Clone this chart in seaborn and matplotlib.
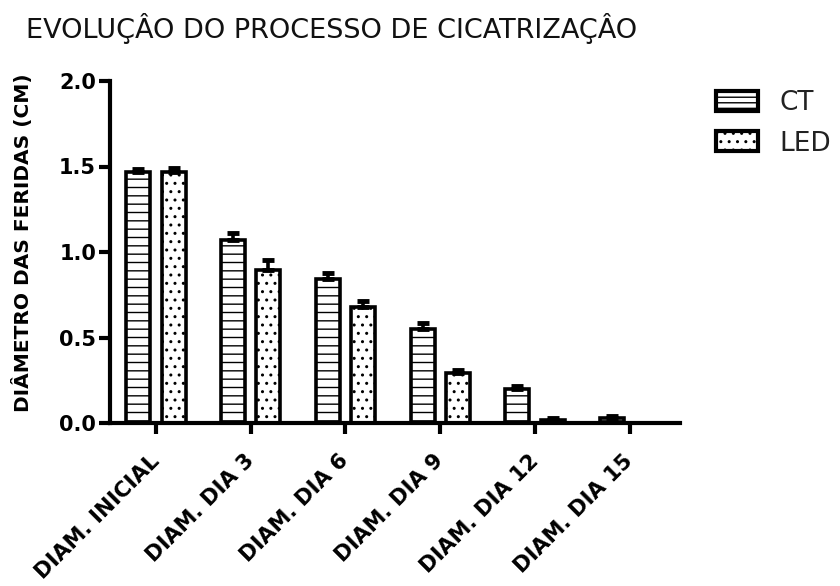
import matplotlib
matplotlib.use("Agg")
import matplotlib.pyplot as plt
import matplotlib.transforms as mtransforms
import seaborn as sns
import pandas as pd
import numpy as np
from matplotlib.patches import Patch

# ---- data ----
categories = ["DIAM. INICIAL", "DIAM. DIA 3", "DIAM. DIA 6", "DIAM. DIA 9", "DIAM. DIA 12", "DIAM. DIA 15"]
groups = ["CT", "LED"]
ct_mean = [1.47, 1.07, 0.84, 0.55, 0.20, 0.03]
ct_err = [0.015, 0.04, 0.035, 0.035, 0.015, 0.01]
led_mean = [1.47, 0.895, 0.68, 0.29, 0.02, 0.0]
led_err = [0.02, 0.06, 0.035, 0.02, 0.01, 0.0]
y_ticks = [0.0, 0.5, 1.0, 1.5, 2.0]
title = "EVOLUÇÂO DO PROCESSO DE CICATRIZAÇÂO"
y_label = "DIÂMETRO DAS FERIDAS (CM)"

df = pd.DataFrame({
    "dia": categories * 2,
    "grupo": [groups[0]] * len(categories) + [groups[1]] * len(categories),
    "diam": ct_mean + led_mean,
})
errs = {groups[0]: ct_err, groups[1]: led_err}

sns.set_theme(style="white")
plt.rcParams["font.family"] = ["DejaVu Sans"]
plt.rcParams["hatch.color"] = "black"
plt.rcParams["hatch.linewidth"] = 1.0

W, H = 840, 586
fig = plt.figure(figsize=(W / 100, H / 100), dpi=100)
fig.patch.set_facecolor("white")
ax = fig.add_axes([110 / W, 1 - 423 / H, (680 - 110) / W, (423 - 81) / H])

sns.barplot(data=df, x="dia", y="diam", hue="grupo", order=categories, hue_order=groups,
            palette=["white", "white"], edgecolor="black", linewidth=2.6,
            width=0.745, gap=0.32, errorbar=None, legend=False, ax=ax)

hatches = {groups[0]: "--", groups[1]: ".."}
for cont, g in zip(ax.containers, groups):
    xs, hs = [], []
    for bar in cont:
        bar.set_hatch(hatches[g])
        xs.append(bar.get_x() + bar.get_width() / 2)
        hs.append(bar.get_height())
    e = np.array(errs[g])
    mask = np.array(hs) > 0
    ax.errorbar(np.array(xs)[mask], np.array(hs)[mask],
                yerr=[np.zeros(mask.sum()), e[mask]], fmt="none",
                ecolor="black", elinewidth=2.6, capsize=4.5, capthick=3.5, zorder=1)

ax.set_ylim(0, 2.0)
ax.set_xlim(-0.485, 5.53)
ax.set_yticks(y_ticks)
ax.set_yticklabels([f"{v:.1f}" for v in y_ticks], fontsize=15, fontweight="bold")
ax.set_xticks(range(len(categories)))
ax.set_xticklabels(categories, rotation=45, ha="right", rotation_mode="anchor",
                   fontsize=15.3, fontweight="bold")
ax.tick_params(axis="both", which="both", direction="out", length=8, width=3,
               color="black", labelcolor="black", left=True, bottom=True)
ax.tick_params(axis="y", pad=2)
ax.tick_params(axis="x", pad=12)
shift = mtransforms.ScaledTranslation(-7 / 100, 0, fig.dpi_scale_trans)
for lbl in ax.get_xticklabels():
    lbl.set_transform(lbl.get_transform() + shift)
ax.set_xlabel("")
ax.set_ylabel(y_label, fontsize=14.5, fontweight="bold", color="black")
ax.yaxis.set_label_coords((33 - 110) / 570, (423 - 243) / 342)
for s in ["top", "right"]:
    ax.spines[s].set_visible(False)
for s in ["left", "bottom"]:
    ax.spines[s].set_linewidth(3)
    ax.spines[s].set_color("black")

fig.text(26 / W, 1 - 38 / H, title, fontsize=19.5, ha="left", va="baseline", color="#111111")

handles = [Patch(facecolor="white", edgecolor="black", hatch=h, linewidth=3, label=g)
           for g, h in zip(groups, ["---", ".."])]
fig.legend(handles=handles, loc="upper left", bbox_to_anchor=(716 / W, 1 - 90 / H),
           frameon=False, fontsize=19, handlelength=1.6, handleheight=0.8,
           labelspacing=0.55, handletextpad=0.8, borderaxespad=0, borderpad=0,
           labelcolor="#222222")

fig.savefig("out.png", dpi=100, facecolor="white")
